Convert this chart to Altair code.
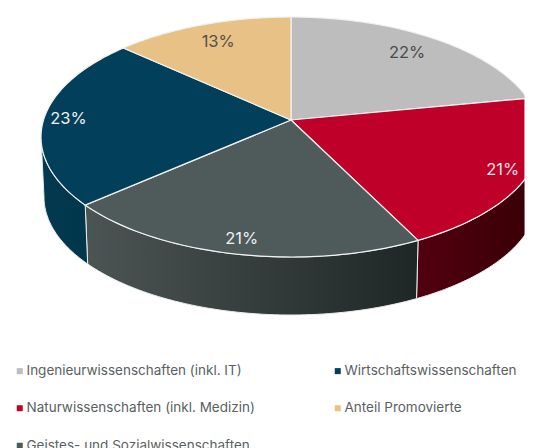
import math
import altair as alt

CATEGORIES = ["Ingenieurwissenschaften (inkl. IT)", "Naturwissenschaften (inkl. Medizin)",
              "Geistes- und Sozialwissenschaften", "Wirtschaftswissenschaften", "Anteil Promovierte"]
SHARES = [22.0, 20.6, 21.0, 23.1, 13.3]
LABELS = ["22%", "21%", "21%", "23%", "13%"]
COLORS = ["#BDBDBD", "#BF0028", "#4F5B5B", "#023F5A", "#E7C185"]
LABEL_COLORS = ["#4a4a4a", "#f4e4e4", "#f0f0f0", "#f0f0f0", "#55504a"]
LABEL_RADIUS = [0.8, 0.9, 0.9, 0.9, 0.8]
WALL_STOPS = [None, ("#52000F", "#3A0006"), ("#4C5454", "#1E2626"), ("#023A50", "#01364C"), None]

OFF = 8
W, H = 517, 440
CX, CY, RX, RY = 291 - OFF, 137 - OFF, 250, 120
BX, BY, BRX, BRY = 291 - OFF, 197 - OFF, 247, 118
T = -17 / 120

def plane(theta, f=1.0):
    u, v = f * math.sin(theta), -f * math.cos(theta)
    d = 1 + T * v
    return u * math.sqrt(1 - T * T) / d, (v + T) / d

def top(theta, f=1.0):
    u, v = plane(theta, f)
    return [CX + RX * u, CY + RY * v]

def psi(theta):
    u, v = plane(theta)
    return math.atan2(u, -v) % (2 * math.pi)

total = sum(SHARES)
cum = [0.0]
for s in SHARES:
    cum.append(cum[-1] + s)
angles = [c / total * 2 * math.pi for c in cum]

def feature(points, cat):
    # the picture is cut off at the chart's right edge
    pts = [[min(x, W), y] for x, y in points]
    return {"type": "Feature", "properties": {"cat": cat},
            "geometry": {"type": "Polygon", "coordinates": [pts + [pts[0]]]}}

slices = []
for i, cat in enumerate(CATEGORIES):
    a, b = angles[i], angles[i + 1]
    n = 60
    arc = [top(a + (b - a) * k / n) for k in range(n + 1)]
    slices.append(feature([[CX, CY - 17]] + arc, cat))

walls = []
for i, cat in enumerate(CATEGORIES):
    if WALL_STOPS[i] is None:
        continue
    a, b = max(psi(angles[i]), math.pi / 2), min(psi(angles[i + 1]) or 2 * math.pi, 1.5 * math.pi)
    n = 60
    ps = [a + (b - a) * k / n for k in range(n + 1)]
    up = [[CX + RX * math.sin(p), CY - RY * math.cos(p)] for p in ps]
    lo = [[BX + BRX * math.sin(p), BY - BRY * math.cos(p)] for p in reversed(ps)]
    walls.append((feature(up + lo, cat), WALL_STOPS[i]))

proj = alt.Projection(type="identity")
# invisible frame: makes the projection's automatic fit a 1:1 mapping of the canvas
frame = feature([[0, 0], [W, 0], [W, H], [0, H]], "frame")
layers = [alt.Chart(alt.InlineData(values=[frame])).mark_geoshape(fill="#ffffff", fillOpacity=0, strokeWidth=0)]
for feat, (c0, c1) in walls:
    grad = alt.Gradient(gradient="linear", x1=0, x2=1, y1=0, y2=0,
                        stops=[alt.GradientStop(color=c0, offset=0), alt.GradientStop(color=c1, offset=1)])
    layers.append(alt.Chart(alt.InlineData(values=[feat])).mark_geoshape(
        fill=grad, stroke="#e8eeee", strokeWidth=1))

legend = alt.Legend(orient="none", legendX=5, legendY=356, columns=2, title=None, symbolType="square",
                    symbolSize=36, labelFont="Inter", labelFontSize=13.5, labelColor="#5a5f62", labelOffset=0,
                    rowPadding=22.5, columnPadding=76, gridAlign="all", symbolStrokeWidth=0, labelLimit=300)
layers.append(alt.Chart(alt.InlineData(values=slices)).mark_geoshape(stroke="#f2f2f2", strokeWidth=1.2).encode(
    color=alt.Color("properties.cat:N", scale=alt.Scale(domain=CATEGORIES, range=COLORS), sort=CATEGORIES, legend=legend)))

label_rows = []
for i, lab in enumerate(LABELS):
    x, y = top((angles[i] + angles[i + 1]) / 2, LABEL_RADIUS[i])
    label_rows.append({"lon": x, "lat": y, "label": lab, "c": LABEL_COLORS[i]})
layers.append(alt.Chart(alt.InlineData(values=label_rows)).mark_text(font="Inter", fontSize=16.5).encode(
    longitude="lon:Q", latitude="lat:Q", text="label:N", color=alt.Color("c:N", scale=None)))

chart = alt.layer(*layers, projection=proj).properties(
    width=W, height=H, padding=0, autosize=alt.AutoSizeParams(type="none")
).configure_view(stroke=None)
chart.save("out.html", embed_options={"renderer": "svg", "actions": False})
